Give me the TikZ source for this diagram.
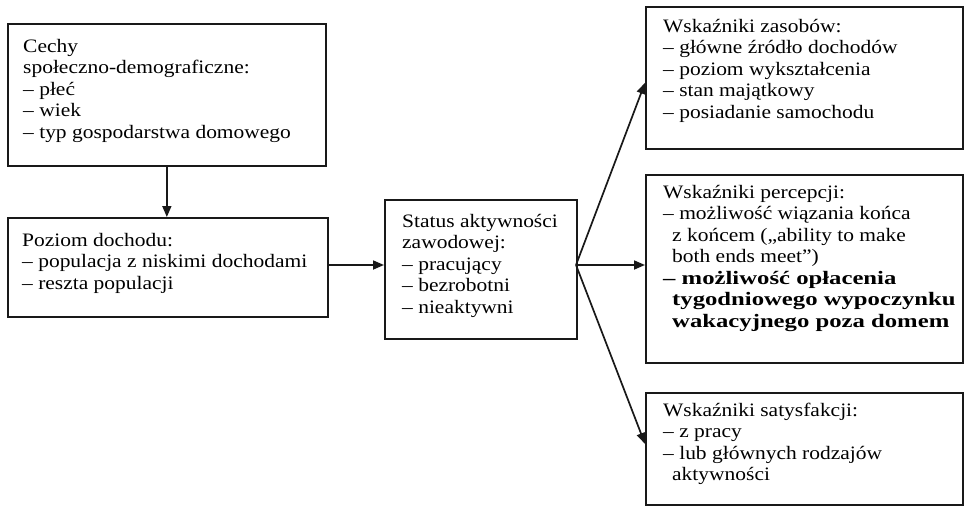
\documentclass[tikz,border=0pt]{standalone}
\usepackage{fontspec}
\setmainfont{Liberation Serif}[FakeStretch=1.13,BoldFeatures={FakeStretch=1.3}]
\usetikzlibrary{arrows.meta,calc}
\tikzset{
  box/.style={draw=black!90, line width=1.7pt, inner sep=0pt, anchor=north west},
  txt/.style={inner sep=0pt, anchor=north west, align=left, font=\fontsize{19}{21.5}\selectfont, text=black},
  conn/.style={line width=1.7pt, draw=black!90, -{Triangle[length=11pt,width=9pt]}}
}
\newcommand{\fst}{\rule{0pt}{17pt}}
\newcommand{\ind}{\hspace*{9pt}}
\begin{document}
\begin{tikzpicture}[x=1pt,y=-1pt]
\useasboundingbox (0,0) rectangle (964,506);
% boxes
\node[box, minimum width=318pt, minimum height=142pt] (b1) at (7,23) {};
\node[box, minimum width=320pt, minimum height=99pt] (b2) at (7,217) {};
\node[box, minimum width=192pt, minimum height=139pt] (b3) at (384,199) {};
\node[box, minimum width=317pt, minimum height=142pt] (b4) at (645,6) {};
\node[box, minimum width=317pt, minimum height=188pt] (b5) at (645,174) {};
\node[box, minimum width=317pt, minimum height=112pt] (b6) at (645,392) {};
% texts
\node[txt] (t1) at (23,35) {\fst Cechy\\społeczno-demograficzne:\\– płeć\\– wiek\\– typ gospodarstwa domowego};
\node[txt] (t2) at (22,229) {\fst Poziom dochodu:\\– populacja z niskimi dochodami\\– reszta populacji};
\node[txt] (t3) at (402,210) {\fst Status aktywności\\zawodowej:\\– pracujący\\– bezrobotni\\– nieaktywni};
\node[txt] (t4) at (663,15) {\fst Wskaźniki zasobów:\\– główne źródło dochodów\\– poziom wykształcenia\\– stan majątkowy\\– posiadanie samochodu};
\node[txt] (t5) at (663,181) {\fst Wskaźniki percepcji:\\– możliwość wiązania końca\\\ind z końcem („ability to make\\\ind both ends meet”)\\\textbf{– możliwość opłacenia}\\\ind\textbf{tygodniowego wypoczynku}\\\ind\textbf{wakacyjnego poza domem}};
\node[txt] (t6) at (663,399) {\fst Wskaźniki satysfakcji:\\– z pracy\\– lub głównych rodzajów\\\ind aktywności};
% connectors
\coordinate (br) at (576,265);
\draw[conn] (b1.south) -- (b1.south |- b2.north);
\draw[conn] (b2.east |- br) -- (b3.west |- br);
\draw[conn] (br) -- ($(b4.west)+(0,5)$);
\draw[conn] (br) -- (b5.west |- br);
\draw[conn] (br) -- ($(b6.west)+(0,-5)$);
\end{tikzpicture}
\end{document}
